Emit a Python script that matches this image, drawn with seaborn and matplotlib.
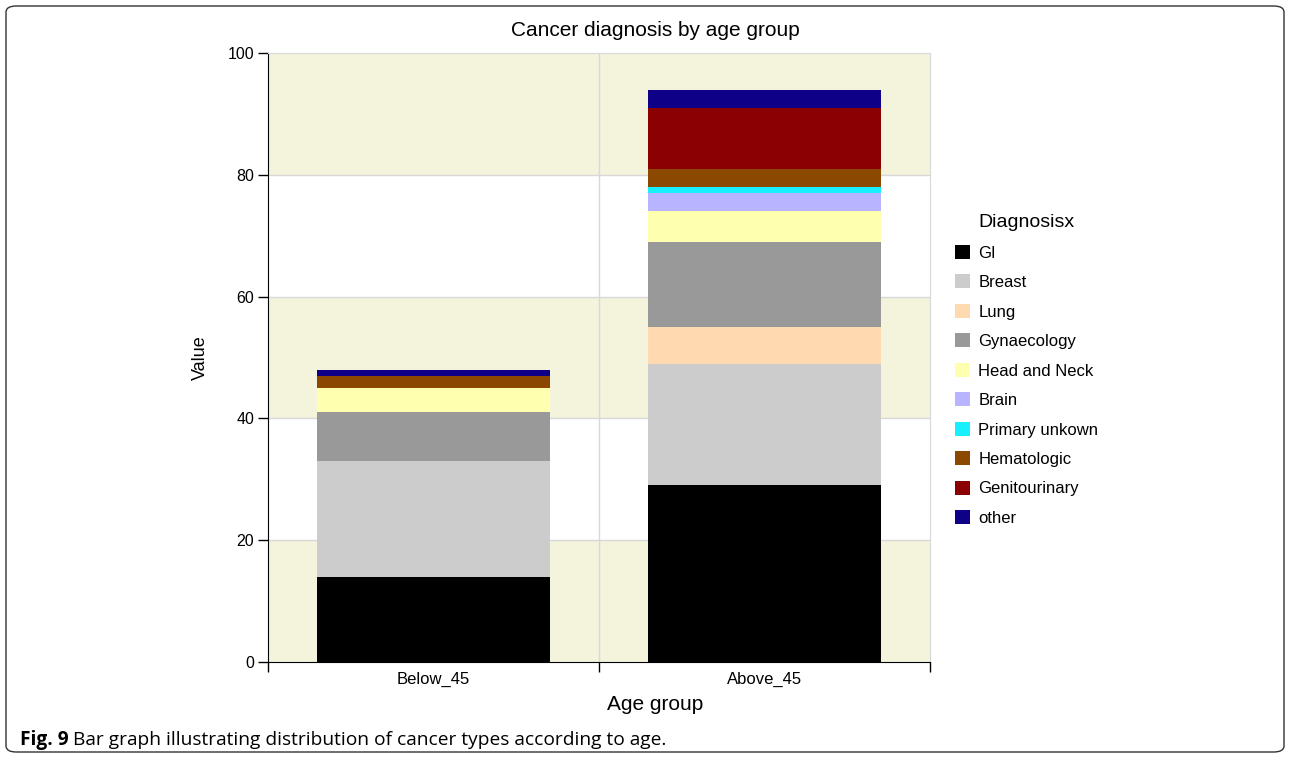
import numpy as np
import pandas as pd
import seaborn as sns
import matplotlib.pyplot as plt
from matplotlib.patches import Patch, FancyBboxPatch

# data
groups = ["Below_45", "Above_45"]
diagnoses = ["GI", "Breast", "Lung", "Gynaecology", "Head and Neck", "Brain",
             "Primary unkown", "Hematologic", "Genitourinary", "other"]
below_45 = [14, 19, 0, 8, 4, 0, 0, 2, 0, 1]
above_45 = [29, 20, 6, 14, 5, 3, 1, 3, 10, 3]
colors = ["#000000", "#cccccc", "#ffdab0", "#999999", "#ffffb0", "#b8b4ff",
          "#18f0ff", "#8b4800", "#8b0000", "#0f0088"]

plt.rcParams['font.family'] = ['Liberation Sans', 'DejaVu Sans']

df = pd.DataFrame({"Below_45": below_45, "Above_45": above_45}, index=diagnoses)
cum = df.cumsum()

fig = plt.figure(figsize=(12.9, 7.58), dpi=100)
ax = fig.add_axes([268/1290, 1-662/758, 662/1290, 609/758])

# banded background
for lo in [0, 40, 80]:
    ax.axhspan(lo, lo + 20, color="#f4f3dc", zorder=0, lw=0)

# stacked bars: draw cumulative totals from the top layer down
for name, c in zip(diagnoses[::-1], colors[::-1]):
    layer = pd.DataFrame({"group": groups, "value": cum.loc[name, groups].values})
    sns.barplot(data=layer, x="group", y="value", color=c, width=0.706,
                errorbar=None, linewidth=0, saturation=1, ax=ax, zorder=2)

ax.set_xlim(-0.5, 1.5)
ax.set_ylim(0, 100)
ax.set_yticks([0, 20, 40, 60, 80, 100])
ax.set_xticks([0, 1])
ax.set_xticklabels(groups)
ax.set_xticks([-0.5, 0.5, 1.5], minor=True)
ax.tick_params(axis="x", which="major", length=0, pad=7, labelsize=12)
ax.tick_params(axis="x", which="minor", length=7, width=1, direction="out")
ax.tick_params(axis="y", length=7, width=1, direction="out", labelsize=11.5, pad=3)
ax.set_xlabel("")
ax.set_ylabel("")

for y in [20, 40, 60, 80]:
    ax.axhline(y, color="#d8d8d8", lw=1, zorder=1)
ax.axvline(0.5, color="#d8d8d8", lw=1, zorder=1)

for s in ["top", "right"]:
    ax.spines[s].set_color("#d8d8d8")
for s in ["left", "bottom"]:
    ax.spines[s].set_color("black")

fig.text(655/1290, 1-31/758, "Cancer diagnosis by age group", ha="center", va="center", fontsize=15)
fig.text(655/1290, 1-704/758, "Age group", ha="center", va="center", fontsize=15)
fig.text(200/1290, 1-358/758, "Value", ha="center", va="center", rotation=90, fontsize=13)

handles = [Patch(facecolor=c, edgecolor="none") for c in colors]
leg = fig.legend(handles, diagnoses, loc="upper left", bbox_to_anchor=(940/1290, 1-199/758),
                 frameon=False, title="Diagnosisx", fontsize=12, title_fontsize=14,
                 handlelength=0.9, handleheight=0.9, handletextpad=0.5, labelspacing=0.83)

# caption and frame
fig.text(20/1290, 1-740/758, "Fig. 9", fontweight="bold", fontsize=13.8,
         family=["Open Sans", "DejaVu Sans"], va="center")
fig.text(73/1290, 1-740/758, "Bar graph illustrating distribution of cancer types according to age.",
         fontsize=13.8, family=["Open Sans", "DejaVu Sans"], va="center")
fig.patches.append(FancyBboxPatch((6/1290, 6/758), 1278/1290, 746/758,
                                  boxstyle="round,pad=0,rounding_size=0.008",
                                  transform=fig.transFigure, fill=False, ec="#333333", lw=1))

fig.savefig("out.png", dpi=100)
